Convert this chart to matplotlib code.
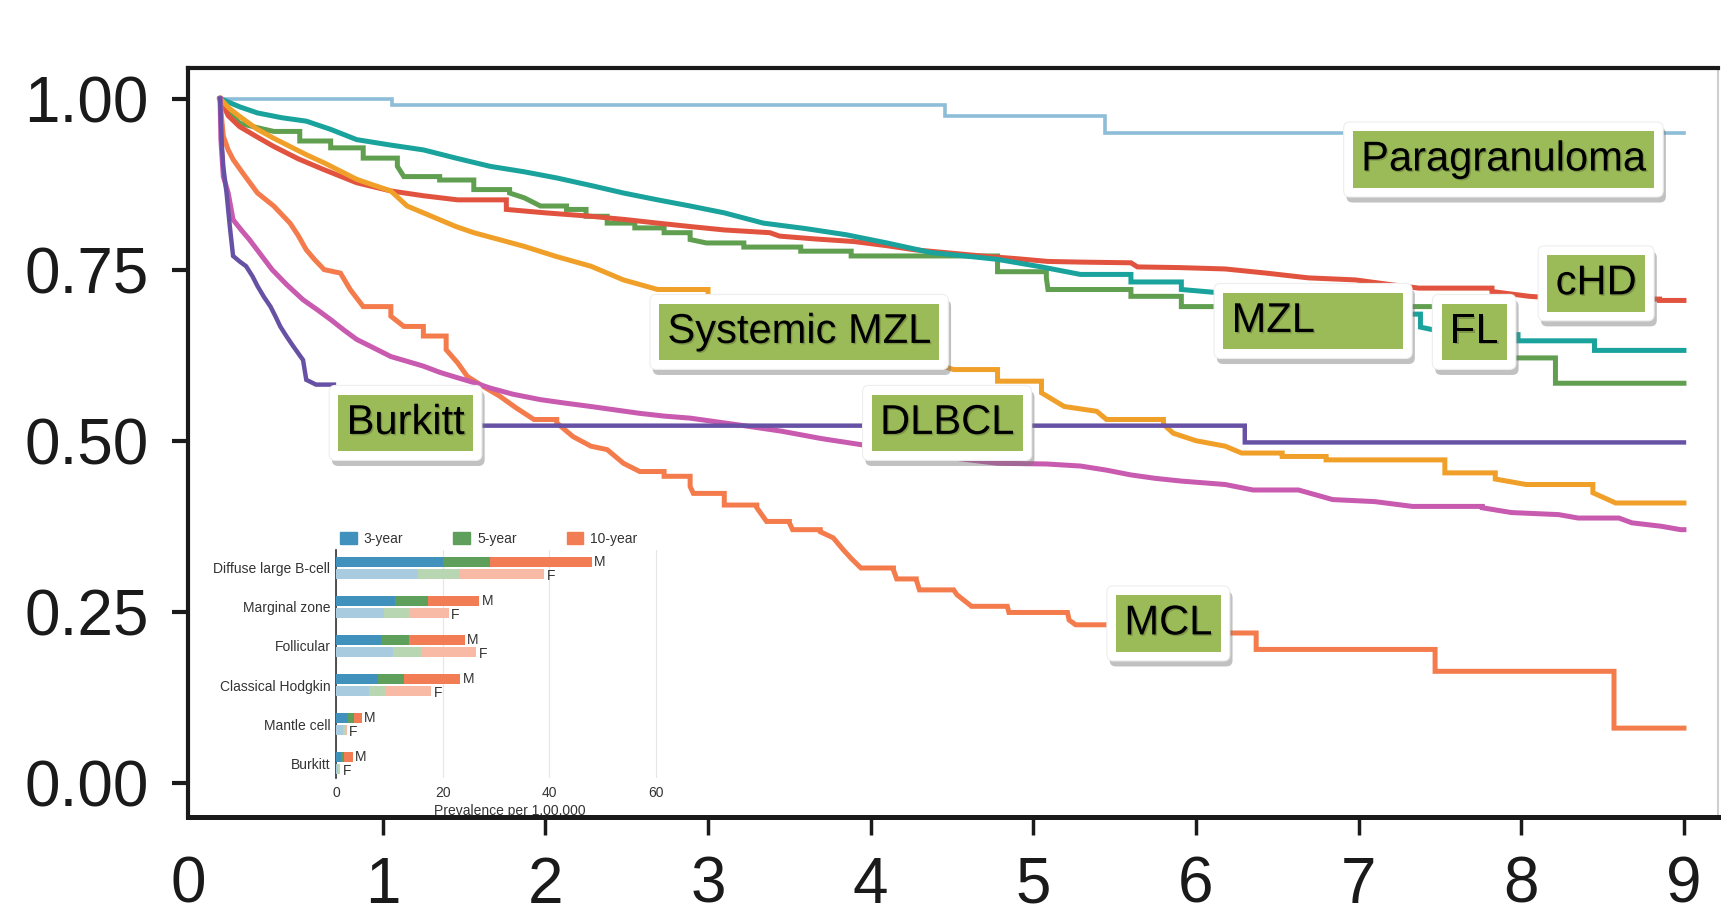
import matplotlib
matplotlib.use("Agg")
import matplotlib.pyplot as plt
import matplotlib.patheffects as pe
from matplotlib.patches import Patch
from matplotlib.transforms import Bbox, TransformedBbox

plt.rcParams['font.family'] = ['Liberation Sans', 'DejaVu Sans']

# survival curves (years, survival probability)
para_t = [0, 1.06, 4.46, 5.44, 9.0]
para_s = [1.0, 0.991, 0.974, 0.949, 0.949]

teal_t = [0, 0.12, 0.23, 0.38, 0.53, 0.68, 0.84, 1.05, 1.25, 1.45, 1.66, 1.87, 2.07, 2.28, 2.48,
          2.69, 2.89, 3.1, 3.34, 3.6, 3.85, 4.1, 4.37, 4.58, 4.78, 5.05, 5.29, 5.6, 5.91, 6.2,
          6.6, 7.0, 7.38, 7.6, 7.98, 8.45, 9.0]
teal_s = [1.0, 0.988, 0.979, 0.972, 0.967, 0.955, 0.940, 0.932, 0.925, 0.913, 0.901, 0.893, 0.884,
          0.873, 0.862, 0.852, 0.843, 0.833, 0.818, 0.810, 0.801, 0.789, 0.775, 0.770, 0.765,
          0.754, 0.743, 0.732, 0.721, 0.715, 0.700, 0.685, 0.666, 0.655, 0.646, 0.632, 0.632]

red_t = [0, 0.05, 0.12, 0.22, 0.33, 0.48, 0.64, 0.84, 1.05, 1.25, 1.46, 1.76, 2.0, 2.28, 2.5,
         2.69, 2.89, 3.10, 3.38, 3.44, 3.65, 3.90, 4.1, 4.27, 4.5, 4.68, 4.9, 5.09, 5.3, 5.60,
         5.64, 5.90, 6.18, 6.43, 6.69, 6.98, 7.2, 7.37, 7.82, 8.05, 8.3, 8.85, 9.0]
red_s = [1.0, 0.975, 0.959, 0.945, 0.930, 0.912, 0.896, 0.877, 0.865, 0.858, 0.852, 0.838, 0.833,
         0.828, 0.823, 0.818, 0.813, 0.808, 0.804, 0.799, 0.795, 0.791, 0.785, 0.779, 0.774,
         0.770, 0.766, 0.762, 0.761, 0.760, 0.754, 0.753, 0.751, 0.745, 0.738, 0.735, 0.728,
         0.723, 0.718, 0.711, 0.707, 0.705, 0.705]

green_t = [0, 0.06, 0.12, 0.22, 0.33, 0.49, 0.68, 0.88, 1.09, 1.13, 1.35, 1.56, 1.78, 1.87, 1.97,
           2.13, 2.25, 2.38, 2.55, 2.73, 2.89, 2.99, 3.22, 3.57, 3.88, 4.78, 5.08, 5.09, 5.60,
           5.91, 7.55, 7.85, 8.21, 9.0]
green_s = [1.0, 0.980, 0.964, 0.958, 0.952, 0.938, 0.928, 0.913, 0.901, 0.886, 0.881, 0.867, 0.862,
           0.855, 0.843, 0.838, 0.828, 0.818, 0.811, 0.804, 0.794, 0.789, 0.783, 0.777, 0.770,
           0.747, 0.738, 0.721, 0.711, 0.696, 0.660, 0.621, 0.584, 0.584]

orange_t = [0, 0.06, 0.12, 0.23, 0.33, 0.43, 0.53, 0.64, 0.74, 0.84, 0.95, 1.05, 1.15, 1.25, 1.35,
            1.45, 1.56, 1.7, 1.87, 2.07, 2.28, 2.48, 2.69, 3.0, 3.5, 4.0, 4.3, 4.51, 4.78, 5.05,
            5.19, 5.39, 5.45, 5.80, 5.86, 6.0, 6.18, 6.28, 6.53, 6.80, 7.53, 7.84, 8.03, 8.44,
            8.58, 9.0]
orange_s = [1.0, 0.985, 0.974, 0.955, 0.942, 0.930, 0.918, 0.906, 0.894, 0.882, 0.873, 0.865,
            0.843, 0.833, 0.823, 0.813, 0.804, 0.795, 0.784, 0.769, 0.755, 0.735, 0.721, 0.700,
            0.670, 0.640, 0.620, 0.604, 0.587, 0.570, 0.550, 0.543, 0.531, 0.524, 0.511, 0.500,
            0.492, 0.482, 0.477, 0.472, 0.453, 0.444, 0.436, 0.424, 0.409, 0.409]

purple_t = [0, 0.005, 0.01, 0.02, 0.04, 0.06, 0.08, 0.12, 0.16, 0.20, 0.23, 0.27, 0.31, 0.34,
            0.37, 0.41, 0.45, 0.48, 0.51, 0.53, 0.59, 0.7, 0.9, 1.1, 1.3, 6.30, 9.0]
purple_s = [1.0, 0.97, 0.935, 0.90, 0.862, 0.813, 0.770, 0.762, 0.755, 0.740, 0.726, 0.71, 0.696,
            0.682, 0.667, 0.652, 0.638, 0.628, 0.618, 0.589, 0.582, 0.56, 0.54, 0.528, 0.522,
            0.4975, 0.4975]

magenta_t = [0, 0.005, 0.02, 0.05, 0.08, 0.13, 0.18, 0.25, 0.32, 0.41, 0.51, 0.6, 0.68, 0.76,
             0.84, 0.95, 1.05, 1.15, 1.25, 1.35, 1.46, 1.56, 1.66, 1.8, 1.97, 2.12, 2.28, 2.43,
             2.58, 2.73, 2.89, 3.04, 3.25, 3.45, 3.7, 3.92, 4.2, 4.5, 4.78, 5.08, 5.29, 5.45,
             5.60, 5.75, 5.91, 6.18, 6.35, 6.63, 6.84, 7.1, 7.33, 7.76, 7.94, 8.23, 8.35, 8.6,
             8.68, 8.86, 8.98, 9.0]
magenta_s = [1.0, 0.94, 0.886, 0.862, 0.823, 0.808, 0.794, 0.772, 0.750, 0.728, 0.706, 0.691,
             0.677, 0.662, 0.648, 0.635, 0.623, 0.616, 0.609, 0.600, 0.592, 0.585, 0.577, 0.568,
             0.560, 0.555, 0.550, 0.545, 0.540, 0.536, 0.533, 0.528, 0.521, 0.514, 0.503, 0.495,
             0.485, 0.475, 0.467, 0.466, 0.463, 0.457, 0.450, 0.445, 0.441, 0.436, 0.428, 0.428,
             0.414, 0.411, 0.404, 0.402, 0.395, 0.392, 0.387, 0.387, 0.380, 0.375, 0.370, 0.370]

mcl_t = [0, 0.01, 0.02, 0.05, 0.08, 0.14, 0.23, 0.33, 0.43, 0.48, 0.53, 0.58, 0.64, 0.74, 0.80,
         0.88, 1.05, 1.13, 1.25, 1.39, 1.46, 1.52, 1.62, 1.72, 1.82, 1.93, 2.07, 2.17, 2.28, 2.38,
         2.48, 2.58, 2.73, 2.89, 2.91, 3.10, 3.30, 3.36, 3.50, 3.52, 3.69, 3.77, 3.83, 3.88, 3.94,
         4.14, 4.16, 4.28, 4.30, 4.51, 4.53, 4.62, 4.84, 4.85, 5.21, 5.22, 5.26, 5.9, 6.37, 7.47,
         8.57, 9.0]
mcl_s = [1.0, 0.97, 0.945, 0.925, 0.911, 0.891, 0.862, 0.843, 0.818, 0.800, 0.779, 0.765, 0.750,
         0.745, 0.721, 0.696, 0.682, 0.667, 0.653, 0.633, 0.614, 0.594, 0.579, 0.565, 0.548,
         0.531, 0.526, 0.506, 0.492, 0.487, 0.467, 0.455, 0.448, 0.433, 0.423, 0.406, 0.402,
         0.382, 0.380, 0.370, 0.367, 0.358, 0.341, 0.328, 0.314, 0.311, 0.298, 0.297, 0.282,
         0.282, 0.275, 0.258, 0.258, 0.249, 0.249, 0.238, 0.231, 0.219, 0.195, 0.163, 0.080,
         0.080]

# (t, s, colour, width, gap below which dense drops are drawn as a slope)
curves = [
    (para_t, para_s, '#8dbdd8', 2.6, 0.0),
    (green_t, green_s, '#5f9f4f', 3.6, 0.12),
    (red_t, red_s, '#e1533f', 3.6, 0.3),
    (teal_t, teal_s, '#19a39c', 3.6, 0.3),
    (orange_t, orange_s, '#f0a028', 3.6, 0.22),
    (mcl_t, mcl_s, '#f47c4c', 3.6, 0.11),
    (magenta_t, magenta_s, '#c85aaf', 3.6, 0.3),
    (purple_t, purple_s, '#6651a5', 3.2, 0.06),
]

# curve labels and where they sit
label_text = ["Paragranuloma", "cHD", "FL", "MZL       ", "Systemic MZL", "DLBCL", "Burkitt", "MCL"]
label_x = [7.89, 8.46, 7.71, 6.72, 3.56, 4.47, 1.14, 5.83]
label_y = [0.911, 0.730, 0.659, 0.675, 0.659, 0.526, 0.526, 0.233]

x_ticks = [1, 2, 3, 4, 5, 6, 7, 8, 9]
y_ticks = [0.0, 0.25, 0.5, 0.75, 1.0]

# inset: prevalence per 1,00,000
inset_cats = ["Diffuse large B-cell", "Marginal zone", "Follicular", "Classical Hodgkin",
              "Mantle cell", "Burkitt"]
male_3 = [20.0, 11.1, 8.5, 7.9, 2.2, 0.9]
male_5 = [28.8, 17.2, 13.6, 12.8, 3.3, 1.5]
male_10 = [47.9, 26.8, 24.1, 23.3, 4.8, 3.1]
female_3 = [15.3, 8.9, 10.6, 6.2, 1.4, 0.3]
female_5 = [23.1, 13.6, 16.0, 9.2, 1.6, 0.5]
female_10 = [39.0, 21.1, 26.2, 17.8, 2.0, 0.8]


def km_vertices(t, s, gap):
    xs, ys = [t[0]], [s[0]]
    for i in range(1, len(t)):
        if t[i] - t[i - 1] > gap:
            xs.append(t[i])
            ys.append(s[i - 1])
        xs.append(t[i])
        ys.append(s[i])
    return xs, ys


fig = plt.figure(figsize=(17.25, 9.16), dpi=100)
ax = fig.add_axes([0.109, 0.108, 0.887, 0.818])

for t, s, c, lw, gap in curves:
    xs, ys = km_vertices(t, s, gap)
    ax.plot(xs, ys, color=c, lw=lw, solid_joinstyle='miter', zorder=3)

ax.set_xlim(-0.197, 9.21)
ax.set_ylim(-0.05, 1.045)

ax.set_yticks(y_ticks)
ax.set_yticklabels([f"{v:.2f}" for v in y_ticks])
ax.set_xticks([-0.197] + x_ticks)
ax.set_xticklabels(['0'] + [str(v) for v in x_ticks])
ax.xaxis.get_major_ticks()[0].tick1line.set_visible(False)
ax.tick_params(axis='y', direction='out', length=11.5, width=3, pad=17,
               labelsize=46, colors='#1a1a1a')
ax.tick_params(axis='x', direction='out', length=13, width=2.5, pad=15,
               labelsize=46, colors='#1a1a1a')

for side in ['left', 'top']:
    ax.spines[side].set_linewidth(3)
    ax.spines[side].set_color('#1a1a1a')
ax.spines['bottom'].set_linewidth(3.6)
ax.spines['bottom'].set_color('#1a1a1a')
ax.spines['right'].set_linewidth(1.5)
ax.spines['right'].set_color('#cfcfcf')

# green labels with white frame and shadow
for s, x, y in zip(label_text, label_x, label_y):
    outer = ax.text(x, y, s, fontsize=30, color='none', ha='center', va='center', zorder=5,
                    bbox=dict(boxstyle='round,pad=0.42,rounding_size=0.15', fc='white',
                              ec='#eeeeee', lw=0.8))
    outer.get_bbox_patch().set_path_effects([
        pe.SimplePatchShadow(offset=(2, -4), shadow_rgbFace='#777777', alpha=0.45),
        pe.Normal()])
    ax.text(x, y, s, fontsize=30, color='black', ha='center', va='center', zorder=6,
            bbox=dict(boxstyle='square,pad=0.2', fc='#9bbb59', ec='none'),
            path_effects=[pe.withSimplePatchShadow(offset=(1, -1), alpha=0.2)])

# inset bar chart
ins = fig.add_axes([0.1948, 0.1507, 0.201, 0.249])
ins.set_facecolor('none')
pos = list(range(len(inset_cats)))
pos_m = [p - 0.16 for p in pos]
pos_f = [p + 0.16 for p in pos]
h = 0.26
male_cols = ['#4091bb', '#5f9f5c', '#f27c53']
female_cols = ['#a8cbe0', '#b8d6b2', '#f9baa5']
for vals, c in zip([male_10, male_5, male_3], male_cols[::-1]):
    ins.barh(pos_m, vals, height=h, color=c, zorder=3)
for vals, c in zip([female_10, female_5, female_3], female_cols[::-1]):
    ins.barh(pos_f, vals, height=h, color=c, zorder=3)
for p, v in zip(pos_m, male_10):
    ins.text(v + 0.5, p, 'M', fontsize=10, color='#333333', va='center', ha='left')
for p, v in zip(pos_f, female_10):
    ins.text(v + 0.5, p + 0.05, 'F', fontsize=10, color='#333333', va='center', ha='left')

ins.set_xlim(0, 65)
ins.set_ylim(5.38, -0.46)
ins.set_yticks(pos)
ins.set_yticklabels(inset_cats)
ins.set_xticks([0, 20, 40, 60])
ins.tick_params(axis='both', length=0, labelsize=10, colors='#333333')
ins.tick_params(axis='x', pad=6)
ins.tick_params(axis='y', pad=4)
ins.grid(axis='x', color='#e6e6e6', lw=0.8, zorder=0)
for side in ['top', 'right', 'bottom']:
    ins.spines[side].set_visible(False)
ins.spines['left'].set_color('#333333')
ins.spines['left'].set_linewidth(1.2)
xl = ins.set_xlabel('Prevalence per 1,00,000', fontsize=10, color='#333333', labelpad=3)
xl.set_clip_box(TransformedBbox(Bbox([[0, 0.1105], [1, 1]]), fig.transFigure))
xl.set_clip_on(True)

handles = [Patch(color=c) for c in male_cols]
ins.legend(handles, ['3-year', '5-year', '10-year'], loc='lower left', bbox_to_anchor=(0.0, 1.0),
           ncol=3, frameon=False, fontsize=10, handlelength=1.2, handleheight=1.0,
           handletextpad=0.5, columnspacing=3.6, borderaxespad=0.1, borderpad=0.2,
           labelcolor='#333333')

fig.savefig("out.png", dpi=100)
